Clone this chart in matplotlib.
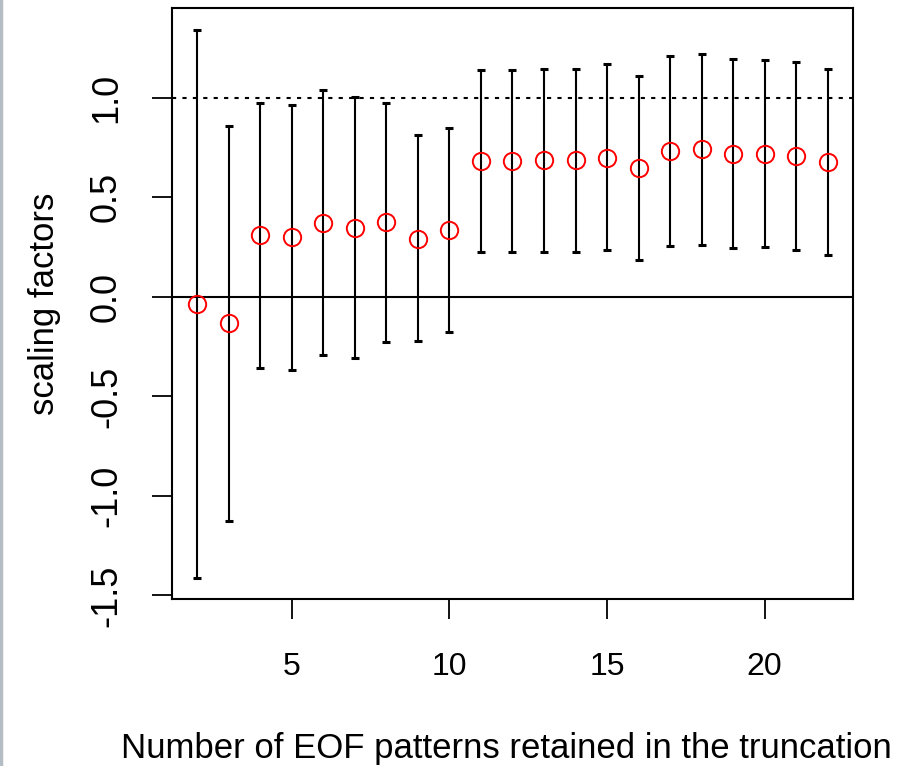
import numpy as np
import matplotlib.pyplot as plt
from matplotlib.lines import Line2D

plt.rcParams["font.family"] = ["Liberation Sans", "DejaVu Sans"]

# number of EOF patterns retained
n_eof = np.arange(2, 23)
# best estimate of the scaling factor
best = [-0.035, -0.132, 0.310, 0.300, 0.373, 0.348, 0.377, 0.293, 0.337, 0.682,
        0.685, 0.687, 0.687, 0.700, 0.648, 0.735, 0.742, 0.720, 0.720, 0.707, 0.677]
# confidence interval bounds
upper = [1.342, 0.861, 0.975, 0.963, 1.042, 1.003, 0.976, 0.812, 0.849, 1.141,
         1.142, 1.146, 1.146, 1.168, 1.112, 1.209, 1.221, 1.196, 1.191, 1.181, 1.146]
lower = [-1.410, -1.126, -0.355, -0.367, -0.293, -0.305, -0.226, -0.224, -0.174, 0.225,
         0.225, 0.228, 0.228, 0.235, 0.184, 0.256, 0.263, 0.246, 0.250, 0.236, 0.209]

fig = plt.figure(figsize=(9.05, 7.66), dpi=100)
ax = fig.add_axes([0.190, 0.218, 0.7525, 0.7716])

best = np.array(best)
upper = np.array(upper)
lower = np.array(lower)
ax.errorbar(n_eof, best, yerr=[best - lower, upper - best], fmt="none",
            ecolor="black", elinewidth=1.5, capsize=2.6, capthick=2.2)
ax.plot(n_eof, best, "o", mfc="none", mec="red", ms=12.5, mew=1.4, zorder=3)

ax.axhline(0, color="black", lw=1.5, zorder=1)
ax.axhline(1, color="black", lw=1.5, ls=(0, (2, 3)), zorder=1)

ax.set_xlim(1.2, 22.8)
ax.set_ylim(-1.518, 1.452)
ax.set_xticks([5, 10, 15, 20])
ax.set_yticks([-1.5, -1.0, -0.5, 0.0, 0.5, 1.0])
ax.set_yticklabels(["-1.5", "-1.0", "-0.5", "0.0", "0.5", "1.0"], rotation=90, va="center")
ax.tick_params(axis="both", length=14.5, width=1.3)
ax.tick_params(axis="x", labelsize=23, pad=23.5)
ax.tick_params(axis="y", labelsize=26, pad=20)
for s in ax.spines.values():
    s.set_linewidth(1.5)

ax.set_xlabel("Number of EOF patterns retained in the truncation", fontsize=25, labelpad=36)
ax.xaxis.label.set_x(0.491)
ax.set_ylabel("scaling factors", fontsize=25, labelpad=20.5)

fig.add_artist(Line2D([0.0015, 0.0015], [0, 1], color="#b4bcc4", lw=2.5))

fig.savefig("out.png")
